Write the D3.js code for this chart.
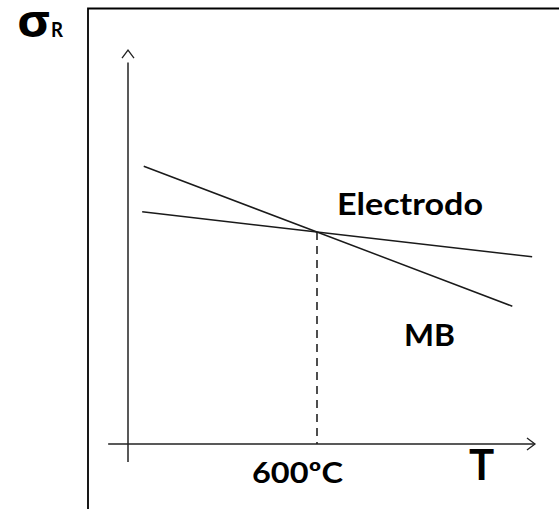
<!DOCTYPE html>
<html>
<head>
<meta charset="utf-8">
<script src="https://cdn.jsdelivr.net/npm/d3@7"></script>
<style>
  body { margin: 0; background: #fff; }
  text { font-family: Lato, "Open Sans", sans-serif; font-weight: bold; fill: #000; }
</style>
</head>
<body>
<div id="chart"></div>
<script>
// data (T in ºC, sigma in arbitrary units)
const mbT = [50, 600, 1220];
const mbS = [131, 100, 65];
const elT = [45, 600, 1283];
const elS = [109.5, 100, 88.3];
const crossT = 600;
const tickLabels = ["600ºC"];

const width = 559, height = 509;

const svg = d3.select("#chart")
  .append("svg")
    .attr("width", width)
    .attr("height", height);

// scales: T=0 sits on the y axis, sigma=0 on the x axis
const x = d3.scaleLinear().domain([0, 600]).range([128, 317]);
const y = d3.scaleLinear().domain([0, 100]).range([444, 232]);

// outer frame (top and left only)
svg.append("path")
    .attr("d", `M88,${height} L88,8.5 L${width},8.5`)
    .attr("fill", "none")
    .attr("stroke", "#000")
    .attr("stroke-width", 1.8);

const axisColor = "#222";

// x axis with open arrow
svg.append("line")
    .attr("x1", x(-63)).attr("x2", x(1292))
    .attr("y1", y(0)).attr("y2", y(0))
    .attr("stroke", axisColor).attr("stroke-width", 1.5);
svg.append("path")
    .attr("d", `M${x(1292) - 8},${y(0) - 6} L${x(1292)},${y(0)} L${x(1292) - 8},${y(0) + 6}`)
    .attr("fill", "none").attr("stroke", axisColor).attr("stroke-width", 1.3);

// y axis with open arrow
svg.append("line")
    .attr("x1", x(0)).attr("x2", x(0))
    .attr("y1", y(-8.5)).attr("y2", y(180))
    .attr("stroke", axisColor).attr("stroke-width", 1.5);
svg.append("path")
    .attr("d", `M${x(0) - 6},${y(185.8) + 8} L${x(0)},${y(185.8)} L${x(0) + 6},${y(185.8) + 8}`)
    .attr("fill", "none").attr("stroke", axisColor).attr("stroke-width", 1.3);

// dashed line down from the crossing point
svg.append("line")
    .attr("x1", x(crossT)).attr("x2", x(crossT))
    .attr("y1", y(100)).attr("y2", y(0))
    .attr("stroke", axisColor).attr("stroke-width", 1.6)
    .attr("stroke-dasharray", "8,6");

// the two curves
const line = d3.line()
    .x(function(d) { return x(d[0]); })
    .y(function(d) { return y(d[1]); });

svg.append("path")
    .datum(d3.zip(mbT, mbS))
    .attr("d", line)
    .attr("fill", "none").attr("stroke", "#1a1a1a").attr("stroke-width", 1.5);

svg.append("path")
    .datum(d3.zip(elT, elS))
    .attr("d", line)
    .attr("fill", "none").attr("stroke", "#1a1a1a").attr("stroke-width", 1.5);

// labels
svg.append("text")
    .attr("x", 337).attr("y", 215)
    .attr("font-size", 30)
    .attr("textLength", 146).attr("lengthAdjust", "spacingAndGlyphs")
    .text("Electrodo");

svg.append("text")
    .attr("x", 404).attr("y", 346)
    .attr("font-size", 31)
    .attr("textLength", 51).attr("lengthAdjust", "spacingAndGlyphs")
    .text("MB");

svg.append("text")
    .attr("x", 252).attr("y", 483)
    .attr("font-size", 29)
    .attr("textLength", 91).attr("lengthAdjust", "spacingAndGlyphs")
    .text(tickLabels[0]);

svg.append("text")
    .attr("x", 469).attr("y", 480)
    .attr("font-size", 42)
    .text("T");

// sigma_R
svg.append("text")
    .attr("x", 17).attr("y", 37)
    .style("font-family", "'Open Sans', 'DejaVu Sans', sans-serif")
    .attr("font-size", 44)
    .attr("textLength", 33).attr("lengthAdjust", "spacingAndGlyphs")
    .text("σ");

svg.append("text")
    .attr("x", 51).attr("y", 37)
    .attr("font-size", 20)
    .attr("textLength", 12).attr("lengthAdjust", "spacingAndGlyphs")
    .text("R");
</script>
</body>
</html>
